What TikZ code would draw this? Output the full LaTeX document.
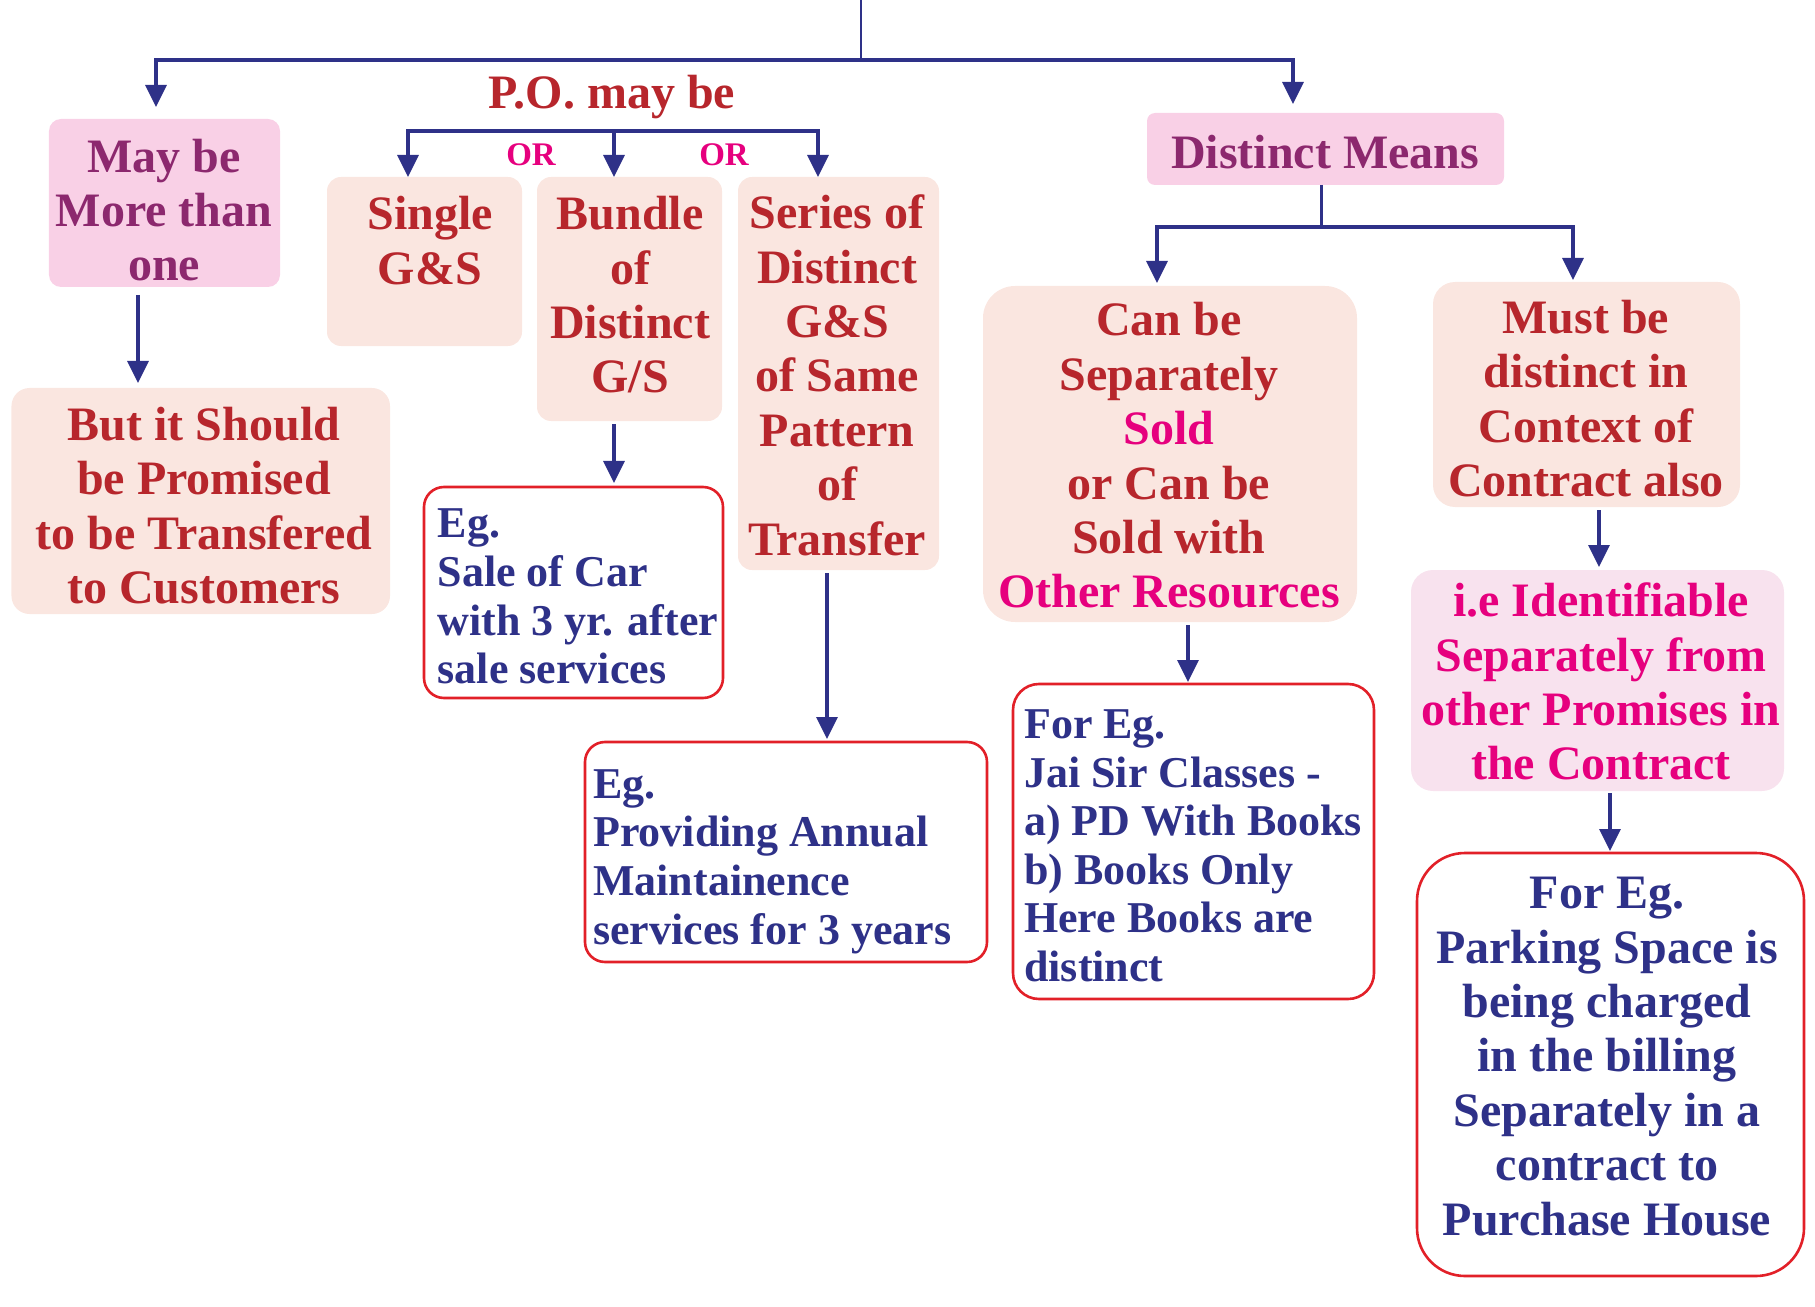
\documentclass[tikz,border=0pt]{standalone}
\usepackage{fontspec}
\setmainfont{Liberation Serif}
\usetikzlibrary{arrows.meta}
\definecolor{tred}{RGB}{183,38,44}
\definecolor{tblue}{RGB}{46,49,136}
\definecolor{tpurp}{RGB}{140,40,110}
\definecolor{tmag}{RGB}{230,0,126}
\definecolor{fpale}{RGB}{250,230,224}
\definecolor{fpink}{RGB}{249,208,230}
\definecolor{flight}{RGB}{248,226,238}
\definecolor{bred}{RGB}{226,32,40}
\newcommand\brk{\\\strut}
\begin{document}
\begin{tikzpicture}[x=1bp,y=-1bp,
  box/.style={inner sep=0pt, outer sep=0pt},
  palebox/.style={box, fill=fpale, rounded corners=14bp},
  pinkbox/.style={box, fill=fpink, rounded corners=12bp},
  egbox/.style={box, draw=bred, line width=2.6bp, fill=white, rounded corners=20bp},
  bigtxt/.style={inner sep=0pt, align=center, font=\fontsize{48bp}{54.4bp}\selectfont\bfseries},
  egtxt/.style={inner sep=0pt, align=left, anchor=west, text=tblue, font=\fontsize{44bp}{48.6bp}\selectfont\bfseries},
  ortxt/.style={inner sep=0pt, text=tmag, font=\fontsize{33bp}{38bp}\selectfont\bfseries},
  arr/.style={draw=tblue, line width=3.2bp, -{Triangle[length=22bp,width=21bp]}},
  stem/.style={draw=tblue, line width=2.5bp}
]
\useasboundingbox (0,0) rectangle (1815,1307);

% boxes
\node[pinkbox, minimum width=231bp, minimum height=168bp] (maybe) at (164.5,203) {};
\node[palebox, minimum width=195bp, minimum height=169bp] (single) at (424.5,261.5) {};
\node[palebox, minimum width=185bp, minimum height=244bp] (bundle) at (629.5,299) {};
\node[palebox, minimum width=201bp, minimum height=393bp] (series) at (838.5,373.5) {};
\node[palebox, rounded corners=18bp, minimum width=378.5bp, minimum height=226bp] (but) at (200.75,501) {};
\node[pinkbox, rounded corners=8bp, minimum width=357bp, minimum height=72bp] (dm) at (1325.5,149) {};
\node[palebox, rounded corners=32bp, minimum width=374bp, minimum height=336bp] (can) at (1170,454) {};
\node[palebox, rounded corners=22bp, minimum width=307bp, minimum height=225bp] (must) at (1586.5,394.5) {};
\node[box, fill=flight, rounded corners=22bp, minimum width=373bp, minimum height=221bp] (ident) at (1597.5,680.5) {};
\node[egbox, minimum width=299bp, minimum height=211bp] (eg1) at (573.5,592.5) {};
\node[egbox, minimum width=402bp, minimum height=220bp] (eg2) at (786,852) {};
\node[egbox, rounded corners=26bp, minimum width=361bp, minimum height=315bp] (eg3) at (1193.5,841.5) {};
\node[egbox, rounded corners=48bp, minimum width=387bp, minimum height=423bp] (park) at (1610.5,1064.5) {};

% texts
\node[bigtxt, text=tred] (po) at (612,98) {\strut P.O. may be};
\node[ortxt] (or1) at (531,158) {\strut OR};
\node[ortxt] (or2) at (724,158) {\strut OR};
\node[bigtxt, text=tpurp] (tmaybe) at (164,215.7) {\strut May be\brk More than\brk one};
\node[bigtxt, text=tred] (tsingle) at (430,246) {\strut Single\brk G\&S};
\node[bigtxt, text=tred] (tbundle) at (630,300.4) {\strut Bundle\brk of\brk Distinct\brk G/S};
\node[bigtxt, text=tred] (tseries) at (837,381) {\strut Series of\brk Distinct\brk G\&S\brk of Same\brk Pattern\brk of\brk Transfer};
\node[bigtxt, text=tred] (tbut) at (204,511) {\strut But it Should\brk be Promised\brk to be Transfered\brk to Customers};
\node[bigtxt, text=tpurp] (tdm) at (1325,158) {\strut Distinct Means};
\node[bigtxt, text=tred] (tcan) at (1169,461) {\strut Can be\brk Separately\brk \textcolor{tmag}{Sold}\brk or Can be\brk Sold with\brk \textcolor{tmag}{Other Resources}};
\node[bigtxt, text=tred] (tmust) at (1586,404) {\strut Must be\brk distinct in\brk Context of\brk Contract also};
\node[bigtxt, text=tmag] (tident) at (1601,687.5) {\strut i.e Identifiable\brk Separately from\brk other Promises in\brk the Contract};
\node[bigtxt, text=tblue] (tpark) at (1607,1061) {\strut For Eg.\brk Parking Space is\brk being charged\brk in the billing\brk Separately in a\brk contract to\brk Purchase House};
\node[egtxt] (teg1) at (437.5,601) {\strut Eg.\brk Sale of Car\brk with 3 yr. after\brk sale services};
\node[egtxt] (teg2) at (593,861.4) {\strut Eg.\brk Providing Annual\brk Maintainence\brk services for 3 years};
\node[egtxt] (teg3) at (1024,850.2) {\strut For Eg.\brk Jai Sir Classes -\brk a) PD With Books\brk b) Books Only\brk Here Books are\brk distinct};

% top connectors
\coordinate (top) at (861,0);
\coordinate (tL) at (156,60);
\coordinate (tR) at (1293,60);
\draw[stem] (top) -- (top |- tL);
\draw[arr, shorten >=12bp] (tR) -- (tL) -- (tL |- maybe.north);
\draw[arr, shorten >=9bp] (tL) -- (tR) -- (tR |- dm.north);

% P.O. bracket
\coordinate (pL) at (408,131);
\coordinate (pM) at (614,131);
\coordinate (pR) at (818,131);
\draw[arr] (pR) -- (pL) -- (pL |- single.north);
\draw[arr] (pM) -- (pM |- bundle.north);
\draw[arr] (pL) -- (pR) -- (pR |- series.north);

% Distinct means bracket
\coordinate (dL) at (1157,227);
\coordinate (dR) at (1573,227);
\draw[stem] ([xshift=-4bp]dm.south) -- ([xshift=-4bp]dm.south |- dL);
\draw[arr, shorten >=3bp] (dR) -- (dL) -- (dL |- can.north);
\draw[arr, shorten >=2bp] (dL) -- (dR) -- (dR |- must.north);

% vertical arrows
\draw[arr, shorten <=8bp, shorten >=5bp] ([xshift=-26.5bp]maybe.south) -- ([xshift=-26.5bp]maybe.south |- but.north);
\draw[arr, shorten <=3bp, shorten >=4bp] ([xshift=-15.5bp]bundle.south) -- ([xshift=-15.5bp]bundle.south |- eg1.north);
\draw[arr, shorten <=3bp, shorten >=3bp] ([xshift=-11.5bp]series.south) -- ([xshift=-11.5bp]series.south |- eg2.north);
\draw[arr, shorten <=3bp, shorten >=2bp] ([xshift=18bp]can.south) -- ([xshift=18bp]can.south |- eg3.north);
\draw[arr, shorten <=3bp, shorten >=3bp] ([xshift=12.5bp]must.south) -- ([xshift=12.5bp]must.south |- ident.north);
\draw[arr, shorten <=2bp, shorten >=2bp] ([xshift=12.5bp]ident.south) -- ([xshift=12.5bp]ident.south |- park.north);
\end{tikzpicture}
\end{document}
